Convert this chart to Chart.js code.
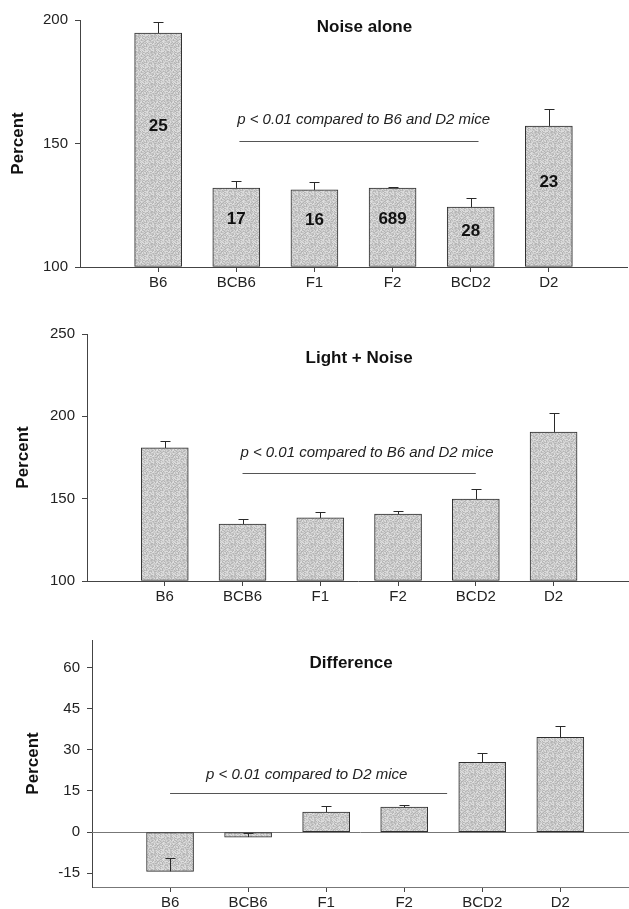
<!DOCTYPE html>
<html>
<head>
<meta charset="utf-8">
<script src="https://cdn.jsdelivr.net/npm/chart.js@4.4.1/dist/chart.umd.min.js"></script>
<style>
  html, body { margin: 0; padding: 0; background: #fff; overflow: hidden; }
  canvas { position: absolute; left: 0; }
</style>
</head>
<body>
<canvas id="noise" width="629" height="300" style="top:0px"></canvas>
<canvas id="light" width="629" height="310" style="top:300px"></canvas>
<canvas id="diff" width="629" height="299" style="top:610px"></canvas>
<script>
// strains along the x axis
const strains = ['B6', 'BCB6', 'F1', 'F2', 'BCD2', 'D2'];

// Noise alone (percent) with SEM and group sizes
const noiseMean = [194.7, 132.0, 131.2, 132.0, 124.3, 157.1];
const noiseErr = [4.5, 2.8, 3.2, 0.5, 3.7, 7.0];
const noiseN = ['25', '17', '16', '689', '28', '23'];
const noiseTicks = [100, 150, 200];

// Light + Noise (percent)
const lightMean = [180.8, 134.6, 138.3, 140.7, 149.8, 190.5];
const lightErr = [4.2, 3.0, 3.6, 1.6, 6.1, 11.5];
const lightTicks = [100, 150, 200, 250];

// Difference (percent)
const diffMean = [-14.3, -1.8, 7.3, 9.1, 25.4, 34.5];
const diffErr = [4.8, 1.4, 2.1, 0.9, 3.3, 4.0];
const diffTicks = [-15, 0, 15, 30, 45, 60];

const FONT = "'Liberation Sans', Arial, sans-serif";
Chart.defaults.font.family = FONT;
Chart.defaults.color = '#222';

// grey stipple like the printed screen tone
function stipple(ctx) {
  const p = document.createElement('canvas');
  p.width = 16; p.height = 16;
  const g = p.getContext('2d');
  const shades = ['#b4b4b4', '#c0c0c0', '#cacaca', '#d4d4d4', '#dedede'];
  for (let i = 0; i < 16; i++) {
    for (let j = 0; j < 16; j++) {
      const h = (i * 73856093 ^ j * 19349663) >>> 0;
      g.fillStyle = shades[(h >> 3) % 5];
      g.fillRect(i, j, 1, 1);
    }
  }
  return ctx.createPattern(p, 'repeat');
}

// error bars, counts, titles and the significance note
const extras = {
  id: 'extras',
  beforeDatasetsDraw(chart, args, o) {
    if (!o.zeroLine) return;
    const { ctx, chartArea, scales: { y } } = chart;
    const py = Math.round(y.getPixelForValue(0)) + 0.5;
    ctx.save();
    ctx.strokeStyle = '#777';
    ctx.lineWidth = 1;
    ctx.beginPath();
    ctx.moveTo(chartArea.left, py);
    ctx.lineTo(chartArea.right, py);
    ctx.stroke();
    ctx.restore();
  },
  afterDatasetsDraw(chart, args, o) {
    const { ctx, scales: { x, y } } = chart;
    const pts = chart.data.datasets[0].data;
    const base = chart.data.datasets[0].base || 0;
    ctx.save();
    ctx.strokeStyle = '#2a2a2a';
    ctx.lineWidth = 1;
    pts.forEach((p, i) => {
      const px = Math.round(x.getPixelForValue(p.x)) + 0.5;
      const y0 = y.getPixelForValue(p.y);
      const y1 = Math.round(y.getPixelForValue(p.y + o.err[i])) + 0.5;
      ctx.beginPath();
      ctx.moveTo(px, y0);
      ctx.lineTo(px, y1);
      ctx.moveTo(px - 5, y1);
      ctx.lineTo(px + 5, y1);
      ctx.stroke();
    });
    ctx.fillStyle = '#111';
    ctx.textAlign = 'center';
    ctx.textBaseline = 'middle';
    if (o.counts) {
      ctx.font = 'bold 17px ' + FONT;
      pts.forEach((p, i) => {
        const v = base + 0.6 * (p.y - base);
        ctx.fillText(o.counts[i], x.getPixelForValue(p.x), y.getPixelForValue(v));
      });
    }
    ctx.font = 'bold 17px ' + FONT;
    ctx.fillText(o.title, x.getPixelForValue(o.titleAt[0]), y.getPixelForValue(o.titleAt[1]));
    ctx.font = 'italic 15px ' + FONT;
    ctx.fillStyle = '#222';
    ctx.fillText(o.note, x.getPixelForValue(o.noteAt[0]), y.getPixelForValue(o.noteAt[1]));
    const ly = Math.round(y.getPixelForValue(o.bar[2])) + 0.5;
    ctx.strokeStyle = '#555';
    ctx.beginPath();
    ctx.moveTo(x.getPixelForValue(o.bar[0]), ly);
    ctx.lineTo(x.getPixelForValue(o.bar[1]), ly);
    ctx.stroke();
    ctx.restore();
  }
};

function makePanel(id, mean, err, ticks, cfg) {
  const canvas = document.getElementById(id);
  const ctx = canvas.getContext('2d');
  return new Chart(ctx, {
    type: 'bar',
    data: {
      datasets: [{
        data: mean.map((v, i) => ({ x: i + 1, y: v })),
        base: cfg.base,
        backgroundColor: stipple(ctx),
        borderColor: '#2e2e2e',
        borderWidth: 1,
        borderSkipped: false,
        barThickness: 47
      }]
    },
    options: {
      responsive: false,
      animation: false,
      layout: { padding: cfg.padding },
      plugins: {
        legend: { display: false },
        tooltip: { enabled: false },
        extras: cfg.extras
      },
      scales: {
        x: {
          type: 'linear',
          min: 0,
          max: cfg.xMax,
          offset: false,
          grid: { offset: false, drawOnChartArea: false, tickLength: 5, tickColor: '#444' },
          border: { color: cfg.xAxisColor },
          afterBuildTicks: s => { s.ticks = strains.map((n, i) => ({ value: i + 1 })); },
          afterFit: s => { s.height = 20; },
          ticks: {
            autoSkip: false,
            maxRotation: 0,
            padding: 2,
            font: { size: 15 },
            callback: v => strains[v - 1]
          }
        },
        y: {
          min: cfg.yMin,
          max: cfg.yMax,
          grid: { drawOnChartArea: false, tickLength: 5, tickColor: '#444' },
          border: { color: '#444' },
          afterBuildTicks: s => { s.ticks = ticks.map(v => ({ value: v })); },
          afterFit: s => { s.width = cfg.axisLeft; },
          ticks: { padding: 7, font: { size: 15 } },
          title: {
            display: true,
            text: 'Percent',
            font: { size: 17, weight: 'bold' },
            color: '#111',
            padding: { top: cfg.titlePad, bottom: 0 }
          }
        }
      }
    },
    plugins: [extras]
  });
}

makePanel('noise', noiseMean, noiseErr, noiseTicks, {
  base: 100, yMin: 100, yMax: 200, xMax: 7, axisLeft: 80, titlePad: 8,
  xAxisColor: '#444',
  padding: { left: 0, right: 2, top: 20, bottom: 13 },
  extras: {
    err: noiseErr, counts: noiseN,
    title: 'Noise alone', titleAt: [3.64, 197],
    note: 'p < 0.01 compared to B6 and D2 mice', noteAt: [3.63, 159.5],
    bar: [2.04, 5.1, 151], zeroLine: false
  }
});

makePanel('light', lightMean, lightErr, lightTicks, {
  base: 100, yMin: 100, yMax: 250, xMax: 6.97, axisLeft: 87, titlePad: 13,
  xAxisColor: '#444',
  padding: { left: 0, right: 0, top: 34, bottom: 9 },
  extras: {
    err: lightErr, counts: null,
    title: 'Light + Noise', titleAt: [3.5, 235.4],
    note: 'p < 0.01 compared to B6 and D2 mice', noteAt: [3.6, 177.7],
    bar: [2.0, 5.0, 165.6], zeroLine: false
  }
});

makePanel('diff', diffMean, diffErr, diffTicks, {
  base: 0, yMin: -20, yMax: 70, xMax: 6.88, axisLeft: 92, titlePad: 23,
  xAxisColor: '#777',
  padding: { left: 0, right: 0, top: 30, bottom: 2 },
  extras: {
    err: diffErr, counts: null,
    title: 'Difference', titleAt: [3.32, 61.4],
    note: 'p < 0.01 compared to D2 mice', noteAt: [2.75, 20.7],
    bar: [1.0, 4.55, 14.2], zeroLine: true
  }
});
</script>
</body>
</html>
